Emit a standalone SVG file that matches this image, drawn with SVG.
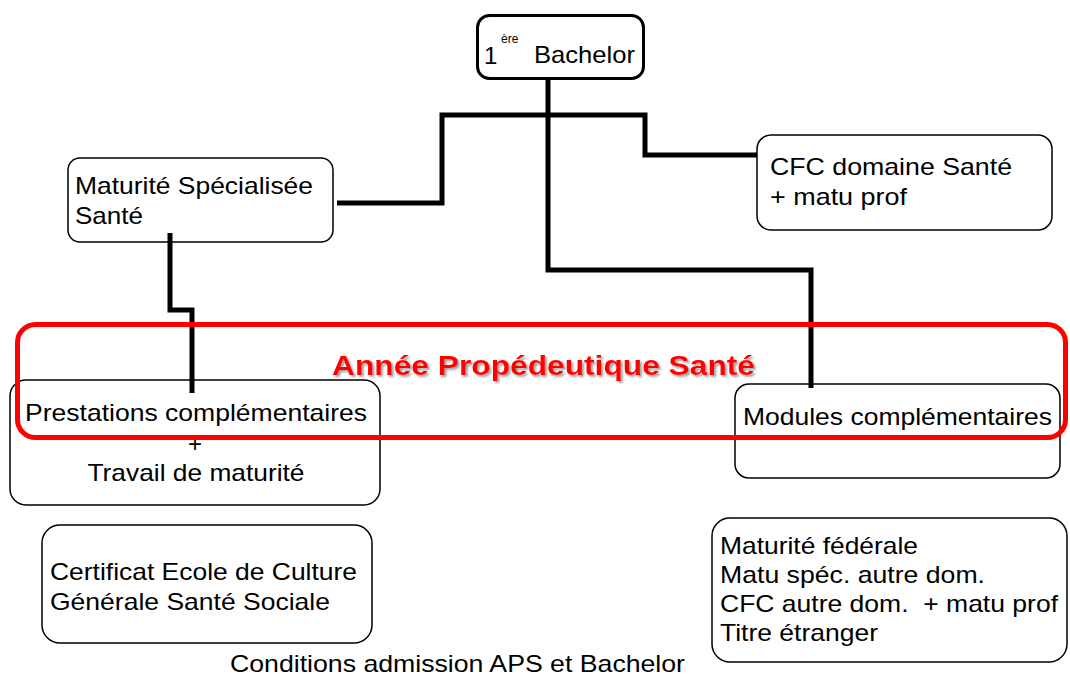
<svg xmlns="http://www.w3.org/2000/svg" width="1070" height="677" viewBox="0 0 1070 677">
<defs>
<style>
.box{fill:#fff;stroke:#000;stroke-width:1.5}
.t{font-family:"Liberation Sans",Arial,sans-serif;font-size:24px;fill:#000}
.conn{fill:none;stroke:#000;stroke-width:5;stroke-linejoin:miter;stroke-linecap:butt}
.title{font-family:"Liberation Sans",Arial,sans-serif;font-size:28px;font-weight:bold;fill:#f00}
</style>
<filter id="sh" x="-5%" y="-30%" width="110%" height="160%">
<feDropShadow dx="2" dy="2" stdDeviation="0.8" flood-color="#888" flood-opacity="0.8"/>
</filter>
</defs>
<rect width="1070" height="677" fill="#fff"/>
<g id="node-bachelor">
<rect x="477.5" y="15.5" width="166" height="63" rx="12" fill="#fff" stroke="#000" stroke-width="3"/>
<text class="t" x="484" y="64">1</text>
<text class="t" x="501" y="43" style="font-size:12px">ère</text>
<text class="t" x="534" y="63" textLength="101" lengthAdjust="spacingAndGlyphs">Bachelor</text>
</g>
<g id="node-maturite">
<rect class="box" x="68" y="158" width="265" height="84" rx="12"/>
<text class="t" x="75" y="194" textLength="238" lengthAdjust="spacingAndGlyphs">Maturité Spécialisée</text>
<text class="t" x="75" y="224" textLength="68" lengthAdjust="spacingAndGlyphs">Santé</text>
</g>
<g id="node-cfc">
<rect class="box" x="757" y="135" width="295" height="95" rx="14"/>
<text class="t" x="770" y="175" textLength="242" lengthAdjust="spacingAndGlyphs">CFC domaine Santé</text>
<text class="t" x="770" y="205" textLength="137" lengthAdjust="spacingAndGlyphs">+ matu prof</text>
</g>
<g id="node-prestations">
<rect class="box" x="10" y="380" width="370" height="125" rx="16"/>
<text class="t" x="25" y="421" textLength="342" lengthAdjust="spacingAndGlyphs">Prestations complémentaires</text>
<text class="t" x="195" y="452" text-anchor="middle">+</text>
<text class="t" x="196" y="481" text-anchor="middle" textLength="217" lengthAdjust="spacingAndGlyphs">Travail de maturité</text>
</g>
<g id="node-modules">
<rect class="box" x="735" y="384" width="325" height="94" rx="14"/>
<text class="t" x="743" y="425" textLength="309" lengthAdjust="spacingAndGlyphs">Modules complémentaires</text>
</g>
<g id="node-certificat">
<rect class="box" x="42" y="525" width="330" height="118" rx="18"/>
<text class="t" x="50" y="580" textLength="307" lengthAdjust="spacingAndGlyphs">Certificat Ecole de Culture</text>
<text class="t" x="50" y="610" textLength="280" lengthAdjust="spacingAndGlyphs">Générale Santé Sociale</text>
</g>
<g id="node-autres">
<rect class="box" x="712" y="518" width="355" height="144" rx="18"/>
<text class="t" x="720" y="554" textLength="198" lengthAdjust="spacingAndGlyphs">Maturité fédérale</text>
<text class="t" x="720" y="583" textLength="265" lengthAdjust="spacingAndGlyphs">Matu spéc. autre dom.</text>
<text class="t" x="720" y="612" textLength="338" lengthAdjust="spacingAndGlyphs" xml:space="preserve">CFC autre dom.  + matu prof</text>
<text class="t" x="720" y="641" textLength="158" lengthAdjust="spacingAndGlyphs">Titre étranger</text>
</g>
<g id="connectors">
<path class="conn" d="M337,203 H442 V115 H645 V155 H757"/>
<path class="conn" d="M548,79 V270 H811 V388"/>
<path class="conn" d="M170,233 V310 H192 V393"/>
</g>
<g id="group-aps">
<rect x="17.5" y="324.5" width="1048" height="113" rx="18" fill="none" stroke="#f00" stroke-width="5"/>
<text class="title" x="332" y="375" textLength="423" lengthAdjust="spacingAndGlyphs" filter="url(#sh)">Année Propédeutique Santé</text>
</g>
<text class="t" x="230" y="672" textLength="455" lengthAdjust="spacingAndGlyphs">Conditions admission APS et Bachelor</text>
</svg>
